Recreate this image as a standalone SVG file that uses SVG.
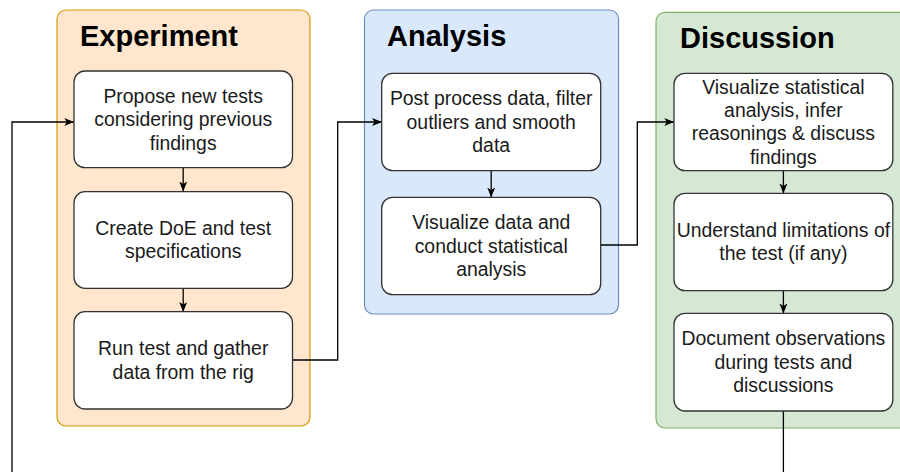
<svg xmlns="http://www.w3.org/2000/svg" width="900" height="472" viewBox="0 0 900 472">
  <style>
    .lane-exp { fill: #ffe6cc; stroke: #d79b00; stroke-width: 1.2; }
    .lane-ana { fill: #dae8fc; stroke: #6c8ebf; stroke-width: 1.2; }
    .lane-dis { fill: #d5e8d4; stroke: #82b366; stroke-width: 1.2; }
    .title { font-family: "Liberation Sans", Arial, sans-serif; font-weight: bold; font-size: 29px; fill: #000; }
    .box { fill: #ffffff; stroke: #333333; stroke-width: 1.3; }
    .label { font-family: "Liberation Sans", Arial, sans-serif; font-size: 19.4px; fill: #1a1a1a; text-anchor: middle; }
    .edge { fill: none; stroke: #000; stroke-width: 1.3; }
  </style>
  <defs>
    <marker id="arrow" viewBox="0 0 10 8" refX="9.5" refY="4" markerWidth="10" markerHeight="8" markerUnits="userSpaceOnUse" orient="auto">
      <path d="M0,0 L10,4 L0,8 L2.5,4 Z" fill="#000"/>
    </marker>
  </defs>

  <rect width="900" height="472" fill="#ffffff"/>

  <!-- swimlane containers -->
  <g id="lane-experiment">
    <rect class="lane-exp" x="57" y="10" width="253" height="416" rx="9"/>
    <text class="title" x="80" y="46">Experiment</text>
  </g>
  <g id="lane-analysis">
    <rect class="lane-ana" x="364.5" y="10" width="254" height="304" rx="9"/>
    <text class="title" x="387" y="45.5">Analysis</text>
  </g>
  <g id="lane-discussion">
    <rect class="lane-dis" x="656" y="12.3" width="260" height="415.7" rx="9"/>
    <text class="title" x="680" y="48">Discussion</text>
  </g>

  <!-- connectors -->
  <g id="connectors">
    <path class="edge" d="M183.2,167.7 V191" marker-end="url(#arrow)"/>
    <path class="edge" d="M183.2,288.3 V311.5" marker-end="url(#arrow)"/>
    <path class="edge" d="M292.5,360 H337.7 V122 H381.5" marker-end="url(#arrow)"/>
    <path class="edge" d="M491.2,170.7 V197" marker-end="url(#arrow)"/>
    <path class="edge" d="M600.7,245 H637.3 V122 H673.8" marker-end="url(#arrow)"/>
    <path class="edge" d="M783.4,170.7 V193" marker-end="url(#arrow)"/>
    <path class="edge" d="M783.4,290.7 V313" marker-end="url(#arrow)"/>
    <path class="edge" d="M783.4,411 V495 H12 V122 H73.8" marker-end="url(#arrow)"/>
  </g>

  <!-- experiment steps -->
  <g id="node-propose">
    <rect class="box" x="74" y="71" width="218.5" height="96.7" rx="11"/>
    <text class="label" x="183.2" y="102.9">Propose new tests</text>
    <text class="label" x="183.2" y="126.2">considering previous</text>
    <text class="label" x="183.2" y="149.5">findings</text>
  </g>
  <g id="node-doe">
    <rect class="box" x="74" y="191.7" width="218.5" height="96.6" rx="11"/>
    <text class="label" x="183.2" y="235.1">Create DoE and test</text>
    <text class="label" x="183.2" y="258.4">specifications</text>
  </g>
  <g id="node-run">
    <rect class="box" x="74" y="311.7" width="218.5" height="97.3" rx="11"/>
    <text class="label" x="183.2" y="355.4">Run test and gather</text>
    <text class="label" x="183.2" y="378.7">data from the rig</text>
  </g>

  <!-- analysis steps -->
  <g id="node-postprocess">
    <rect class="box" x="381.7" y="73.3" width="219" height="97.4" rx="11"/>
    <text class="label" x="491.2" y="105.4">Post process data, filter</text>
    <text class="label" x="491.2" y="128.7">outliers and smooth</text>
    <text class="label" x="491.2" y="152">data</text>
  </g>
  <g id="node-statistics">
    <rect class="box" x="381.7" y="197.3" width="219" height="97.4" rx="11"/>
    <text class="label" x="491.2" y="229.4">Visualize data and</text>
    <text class="label" x="491.2" y="252.7">conduct statistical</text>
    <text class="label" x="491.2" y="276">analysis</text>
  </g>

  <!-- discussion steps -->
  <g id="node-infer">
    <rect class="box" x="674" y="73.3" width="218.8" height="97.4" rx="11"/>
    <text class="label" x="783.4" y="93.8">Visualize statistical</text>
    <text class="label" x="783.4" y="117.1">analysis, infer</text>
    <text class="label" x="783.4" y="140.4">reasonings &amp; discuss</text>
    <text class="label" x="783.4" y="163.7">findings</text>
  </g>
  <g id="node-limitations">
    <rect class="box" x="674" y="193.3" width="218.8" height="97.4" rx="11"/>
    <text class="label" x="783.4" y="237.1">Understand limitations of</text>
    <text class="label" x="783.4" y="260.4">the test (if any)</text>
  </g>
  <g id="node-document">
    <rect class="box" x="674" y="313.3" width="218.8" height="97.7" rx="11"/>
    <text class="label" x="783.4" y="345.4">Document observations</text>
    <text class="label" x="783.4" y="368.7">during tests and</text>
    <text class="label" x="783.4" y="392">discussions</text>
  </g>
</svg>
